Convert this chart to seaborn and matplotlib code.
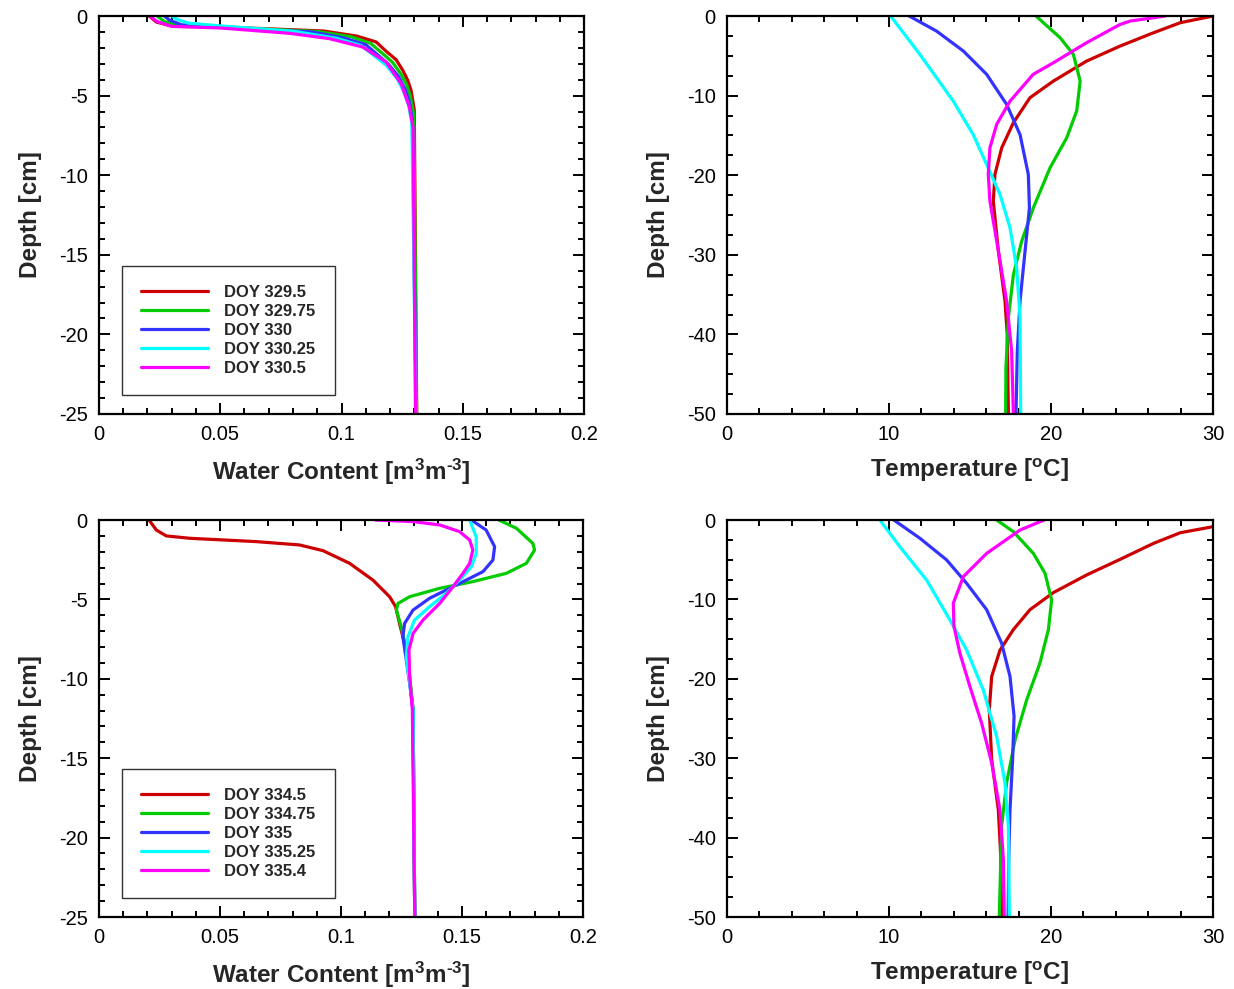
import matplotlib
matplotlib.use("Agg")
import matplotlib.pyplot as plt
import seaborn as sns
from matplotlib.ticker import MultipleLocator, FuncFormatter

# Soil profiles: water content and temperature vs depth for two periods
COLORS = ["#CC0000", "#00CC00", "#3333FF", "#00FFFF", "#FF00FF"]
LABELS_A = ["DOY 329.5", "DOY 329.75", "DOY 330", "DOY 330.25", "DOY 330.5"]
LABELS_B = ["DOY 334.5", "DOY 334.75", "DOY 335", "DOY 335.25", "DOY 335.4"]

# --- water content, DOY 329.5 - 330.5 (x = m3/m3, z = depth cm)
wcA_red_x = [0.0207, 0.0237, 0.0306, 0.0512, 0.0926, 0.1063, 0.1143, 0.118, 0.1225, 0.1253, 0.1273, 0.1287, 0.130, 0.131]
wcA_red_z = [0, -0.38, -0.65, -0.69, -0.94, -1.26, -1.63, -2.16, -2.74, -3.42, -4.04, -4.68, -5.9, -25]
wcA_green_x = [0.024, 0.027, 0.033, 0.05, 0.09, 0.104, 0.112, 0.1165, 0.121, 0.1243, 0.1268, 0.1283, 0.1298, 0.131]
wcA_green_z = [0, -0.35, -0.6, -0.7, -0.97, -1.3, -1.72, -2.3, -2.9, -3.6, -4.3, -5.0, -6.2, -25]
wcA_blue_x = [0.027, 0.029, 0.034, 0.05, 0.088, 0.101, 0.110, 0.115, 0.1195, 0.1235, 0.1262, 0.1278, 0.1292, 0.1308]
wcA_blue_z = [0, -0.25, -0.55, -0.72, -1.0, -1.38, -1.8, -2.45, -3.05, -3.8, -4.6, -5.3, -6.5, -25]
wcA_cyan_x = [0.030, 0.032, 0.037, 0.05, 0.08, 0.098, 0.108, 0.1135, 0.1185, 0.123, 0.1258, 0.1275, 0.129, 0.1307]
wcA_cyan_z = [0, -0.2, -0.45, -0.62, -0.95, -1.4, -1.85, -2.5, -3.1, -3.95, -4.8, -5.5, -6.7, -25]
wcA_mag_x = [0.021, 0.024, 0.03, 0.05, 0.0788, 0.095, 0.1088, 0.1184, 0.1246, 0.128, 0.1295, 0.1305]
wcA_mag_z = [0, -0.35, -0.65, -0.75, -1.09, -1.42, -1.95, -2.89, -4.25, -5.72, -7.0, -25]

# --- temperature, DOY 329.5 - 330.5 (x = degC, z = depth cm)
tA_red_x = [30.0, 27.98, 26.33, 24.27, 22.2, 20.15, 18.7, 17.68, 16.96, 16.54, 16.44, 16.75, 17.16, 17.3, 17.37]
tA_red_z = [0, -0.84, -2.1, -3.77, -5.66, -8.17, -10.27, -13.4, -16.55, -19.9, -23.26, -29.5, -35.8, -40, -50]
tA_green_x = [19.08, 19.53, 20.56, 21.38, 21.8, 21.59, 20.97, 19.94, 18.91, 18.19, 17.68, 17.37, 17.22, 17.2]
tA_green_z = [0, -0.84, -2.72, -4.82, -8.17, -11.9, -15.3, -19.07, -24.1, -28.3, -32.5, -37.9, -44.2, -50]
tA_blue_x = [11.25, 12.94, 14.59, 16.03, 17.26, 18.09, 18.6, 18.67, 18.4, 18.09, 17.92, 17.84]
tA_blue_z = [0, -1.9, -4.4, -7.33, -11.1, -14.9, -19.9, -24.1, -29.5, -35.8, -42.1, -50]
tA_cyan_x = [10.1, 11.9, 13.97, 15.2, 16.03, 16.85, 17.47, 17.88, 18.09, 18.13]
tA_cyan_z = [0, -4.8, -10.7, -14.9, -18.65, -22.4, -26.6, -31.6, -37.9, -50]
tA_mag_x = [27.05, 24.9, 24.27, 22.2, 20.15, 18.9, 17.47, 16.65, 16.23, 16.13, 16.23, 16.75, 17.26, 17.57, 17.68]
tA_mag_z = [0, -0.63, -1.05, -3.35, -5.87, -7.33, -10.7, -13.6, -16.55, -19.9, -23.26, -29.5, -35.8, -42.1, -50]

# --- water content, DOY 334.5 - 335.4
wcB_red_x = [0.0207, 0.0237, 0.0278, 0.0375, 0.065, 0.0829, 0.0926, 0.1036, 0.1132, 0.1201, 0.1226, 0.1245, 0.127, 0.1298, 0.1305]
wcB_red_z = [0, -0.63, -1.0, -1.15, -1.36, -1.57, -1.93, -2.73, -3.78, -4.83, -5.46, -6.7, -8.2, -11.96, -25]
wcB_green_x = [0.1653, 0.1725, 0.1793, 0.18, 0.1766, 0.1683, 0.1545, 0.1408, 0.1284, 0.1236, 0.1229, 0.1249, 0.127, 0.1284, 0.1298, 0.1305]
wcB_green_z = [0, -0.52, -1.47, -1.89, -2.73, -3.36, -3.88, -4.3, -4.83, -5.25, -5.67, -6.72, -8.19, -9.87, -11.96, -25]
wcB_blue_x = [0.1539, 0.16, 0.1635, 0.1628, 0.1587, 0.1518, 0.1449, 0.1366, 0.1298, 0.1263, 0.1256, 0.127, 0.1284, 0.1298, 0.1305]
wcB_blue_z = [0, -0.63, -1.68, -2.52, -3.25, -3.78, -4.3, -4.93, -5.67, -6.51, -7.35, -8.82, -10.29, -11.96, -25]
wcB_cyan_x = [0.1532, 0.1559, 0.1559, 0.1539, 0.149, 0.1435, 0.1366, 0.1304, 0.1277, 0.127, 0.1284, 0.1298, 0.1305]
wcB_cyan_z = [0, -1.05, -2.1, -2.94, -3.78, -4.62, -5.46, -6.3, -7.35, -8.61, -10.29, -11.96, -25]
wcB_mag_x = [0.1143, 0.1298, 0.1408, 0.149, 0.1532, 0.1545, 0.1532, 0.1504, 0.1463, 0.1408, 0.1339, 0.1298, 0.1281, 0.1284, 0.1295, 0.1305]
wcB_mag_z = [0, -0.1, -0.31, -0.73, -1.26, -1.89, -2.73, -3.36, -4.2, -5.25, -6.3, -7.14, -8.19, -9.87, -11.96, -25]

# --- temperature, DOY 334.5 - 335.4
tB_red_x = [30.0, 27.98, 26.33, 24.27, 22.2, 20.15, 18.7, 17.68, 16.85, 16.34, 16.19, 16.34, 16.75, 16.91, 16.95]
tB_red_z = [-0.84, -1.6, -2.94, -4.95, -6.92, -9.14, -11.3, -13.8, -16.4, -19.7, -23.9, -30.2, -36.5, -42.8, -50]
tB_green_x = [16.65, 17.68, 18.91, 19.63, 20.04, 19.84, 19.32, 18.5, 17.78, 17.26, 16.95, 16.81]
tB_green_z = [0, -1.47, -4.2, -6.7, -10.07, -13.8, -18.0, -22.65, -27.7, -33.1, -38.6, -50]
tB_blue_x = [10.3, 11.91, 13.56, 14.79, 16.03, 16.95, 17.47, 17.72, 17.63, 17.47, 17.39, 17.35]
tB_blue_z = [0, -2.3, -5.03, -7.97, -11.3, -15.5, -19.7, -24.7, -30.2, -36.5, -42.8, -50]
tB_cyan_x = [9.44, 10.67, 12.32, 13.76, 14.79, 15.82, 16.65, 17.16, 17.37, 17.43]
tB_cyan_z = [0, -3.36, -7.55, -12.58, -16.36, -21.4, -27.3, -33.1, -38.6, -50]
tB_mag_x = [19.57, 18.09, 16.03, 14.59, 13.97, 14.01, 14.38, 15.0, 15.72, 16.34, 16.85, 17.06, 17.12]
tB_mag_z = [0, -1.26, -4.2, -7.13, -10.49, -13.4, -16.8, -21.0, -25.6, -30.6, -36.5, -42.8, -50]

sns.set_style("ticks")
plt.rcParams["font.family"] = ["Liberation Sans", "DejaVu Sans"]
plt.rcParams["axes.unicode_minus"] = False
plt.rcParams["mathtext.fontset"] = "custom"
plt.rcParams["mathtext.rm"] = "Liberation Sans:bold"
plt.rcParams["mathtext.default"] = "rm"

fig = plt.figure(figsize=(12.34, 9.89), dpi=100)
ax_tl = fig.add_axes([0.0802, 0.5814, 0.3931, 0.4024])
ax_tr = fig.add_axes([0.5891, 0.5814, 0.3939, 0.4024])
ax_bl = fig.add_axes([0.0802, 0.0728, 0.3922, 0.4014])
ax_br = fig.add_axes([0.5891, 0.0728, 0.3939, 0.4014])

fmt = FuncFormatter(lambda v, p: f"{v:g}")


def draw(ax, xs, zs, labels, legend):
    for x, z, c, lab in zip(xs, zs, COLORS, labels):
        sns.lineplot(x=x, y=z, sort=False, estimator=None, color=c, lw=2.3,
                     label=lab, ax=ax, legend=False)
    if legend:
        leg = ax.legend(loc="lower left", bbox_to_anchor=(0.047, 0.048),
                        prop={"weight": "bold", "size": 12}, frameon=True,
                        fancybox=False, edgecolor="black", handlelength=4.0,
                        handletextpad=1.0, labelspacing=0.24, borderpad=1.15,
                        borderaxespad=0)
        leg.get_frame().set_linewidth(1.0)


def style(ax, xlim, ylim, xmaj, xmin, ymaj, ymin, xlabel):
    ax.set_xlim(*xlim)
    ax.set_ylim(*ylim)
    ax.xaxis.set_major_locator(MultipleLocator(xmaj))
    ax.xaxis.set_minor_locator(MultipleLocator(xmin))
    ax.yaxis.set_major_locator(MultipleLocator(ymaj))
    ax.yaxis.set_minor_locator(MultipleLocator(ymin))
    ax.xaxis.set_major_formatter(fmt)
    ax.yaxis.set_major_formatter(fmt)
    ax.tick_params(which="both", direction="in", top=True, right=True,
                   labelsize=14.5, colors="black", width=1.4)
    ax.tick_params(which="major", length=8, pad=8)
    ax.tick_params(which="minor", length=4)
    for s in ax.spines.values():
        s.set_visible(True)
        s.set_linewidth(1.6)
        s.set_color("black")
    ax.set_xlabel(xlabel, fontsize=17.5, fontweight="bold", labelpad=9)
    ax.set_ylabel("Depth [cm]", fontsize=17.5, fontweight="bold", labelpad=12)


draw(ax_tl, [wcA_red_x, wcA_green_x, wcA_blue_x, wcA_cyan_x, wcA_mag_x],
     [wcA_red_z, wcA_green_z, wcA_blue_z, wcA_cyan_z, wcA_mag_z], LABELS_A, True)
draw(ax_tr, [tA_red_x, tA_green_x, tA_blue_x, tA_cyan_x, tA_mag_x],
     [tA_red_z, tA_green_z, tA_blue_z, tA_cyan_z, tA_mag_z], LABELS_A, False)
draw(ax_bl, [wcB_red_x, wcB_green_x, wcB_blue_x, wcB_cyan_x, wcB_mag_x],
     [wcB_red_z, wcB_green_z, wcB_blue_z, wcB_cyan_z, wcB_mag_z], LABELS_B, True)
draw(ax_br, [tB_red_x, tB_green_x, tB_blue_x, tB_cyan_x, tB_mag_x],
     [tB_red_z, tB_green_z, tB_blue_z, tB_cyan_z, tB_mag_z], LABELS_B, False)

wc_label = "Water Content [m$^{3}$m$^{\u2010 3}$]"
t_label = r"Temperature [$^{o}$C]"
style(ax_tl, (0, 0.2), (-25, 0), 0.05, 0.01, 5, 1, wc_label)
style(ax_bl, (0, 0.2), (-25, 0), 0.05, 0.01, 5, 1, wc_label)
style(ax_tr, (0, 30), (-50, 0), 10, 2, 10, 2.5, t_label)
style(ax_br, (0, 30), (-50, 0), 10, 2, 10, 2.5, t_label)

fig.savefig("out.png", dpi=100)
